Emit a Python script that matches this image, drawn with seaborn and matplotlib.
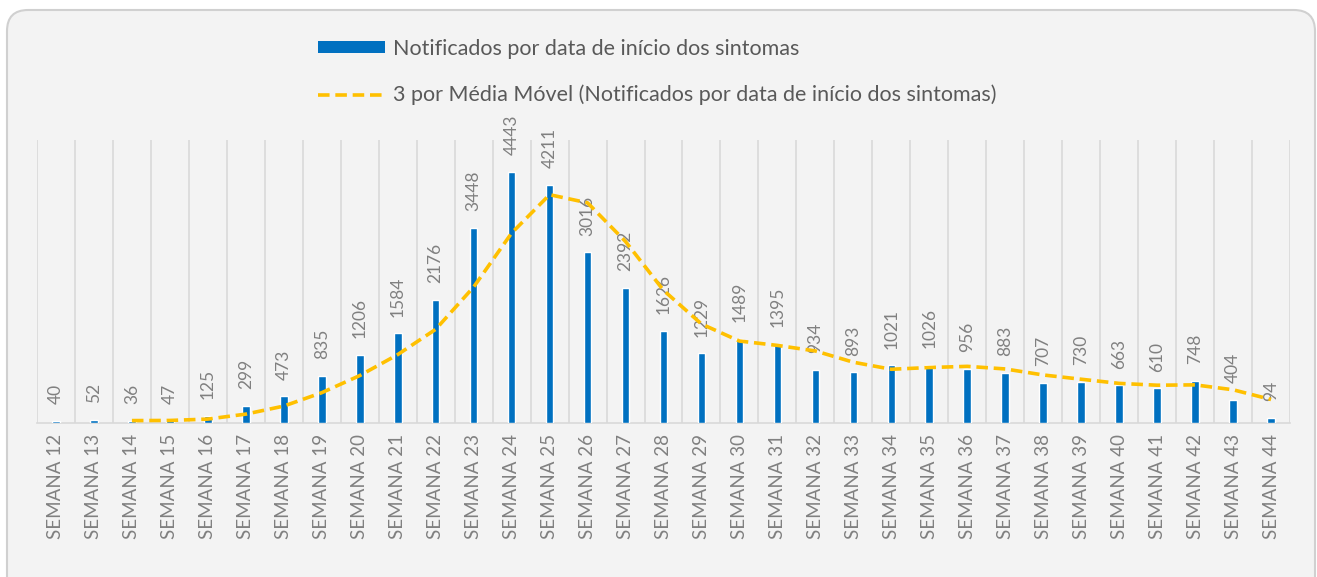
import pandas as pd
import numpy as np
import seaborn as sns
import matplotlib.pyplot as plt
from matplotlib.patches import FancyBboxPatch, Patch
from matplotlib.lines import Line2D

sns.set_style("white")
plt.rcParams['font.family'] = ['Lato', 'DejaVu Sans']

# dados
semanas = ["SEMANA %d" % s for s in range(12, 45)]
notificados = [40, 52, 36, 47, 125, 299, 473, 835, 1206, 1584, 2176, 3448, 4443,
               4211, 3016, 2392, 1626, 1229, 1489, 1395, 934, 893, 1021, 1026,
               956, 883, 707, 730, 663, 610, 748, 404, 94]
# média móvel de 3 períodos (começa na semana 14)
media_movel = [np.nan, np.nan, 42.7, 45.0, 69.3, 157.0, 299.0, 535.7, 838.0,
               1208.3, 1655.3, 2402.7, 3355.7, 4034.0, 3890.0, 3206.3, 2344.7,
               1749.0, 1448.0, 1371.0, 1272.7, 1074.0, 949.3, 980.0, 1001.0,
               955.0, 848.7, 773.3, 700.0, 667.7, 673.7, 587.3, 415.3]

lbl_bar = "Notificados por data de início dos sintomas"
lbl_mm = "3 por Média Móvel (Notificados por data de início dos sintomas)"

azul = "#0070C0"
amarelo = "#FFC000"
cinza = "#808080"

df = pd.DataFrame({"semana": semanas, "n": notificados,
                   "pos": np.arange(len(semanas)), "mm": media_movel})

fig = plt.figure(figsize=(13.17, 5.77), dpi=100)
fig.patch.set_facecolor("white")

# caixa arredondada de fundo
caixa = FancyBboxPatch((7 / 1317, -0.1), 1308 / 1317, 1.1 - 10 / 577,
                       boxstyle="round,pad=0,rounding_size=0.016",
                       transform=fig.transFigure, facecolor="#F3F3F3",
                       edgecolor="#D0D0D0", linewidth=1.5, zorder=-5,
                       mutation_aspect=1317 / 577)
fig.patches.append(caixa)

ax = fig.add_axes([37 / 1317, 1 - 423 / 577, 1253 / 1317, 283 / 577])
ax.set_facecolor("none")
ax.set_zorder(2)

sns.barplot(data=df, x="semana", y="n", color=azul, width=0.2,
            saturation=1, ax=ax, zorder=3)
sns.lineplot(data=df, x="pos", y="mm", color=amarelo, linewidth=2.6,
             dashes=False, ax=ax, zorder=4)
ax.lines[-1].set_dashes((3.2, 1.6))

ax.bar_label(ax.containers[0], labels=[str(v) for v in notificados],
             rotation=90, padding=12, color=cinza, fontsize=12.5)

ax.set_xlim(-0.5, len(semanas) - 0.5)
ax.set_ylim(0, 5000)
ax.set_yticks([])
ax.set_xlabel("")
ax.set_ylabel("")

# linhas verticais entre categorias
ax.set_xticks(np.arange(-0.5, len(semanas)), minor=True)
ax.grid(True, which="minor", axis="x", color="#D9D9D9", linewidth=1.2)
ax.grid(False, which="major")
ax.tick_params(axis="x", which="both", length=0)
ax.tick_params(axis="x", which="major", pad=8, labelrotation=90,
               labelsize=13.5, labelcolor=cinza)

for s in ["top", "left", "right"]:
    ax.spines[s].set_visible(False)
ax.spines["bottom"].set_color("#D9D9D9")
ax.spines["bottom"].set_linewidth(1.2)

handles = [Patch(facecolor=azul, edgecolor="none"),
           Line2D([], [], color=amarelo, linewidth=2.6, dashes=(3.2, 1.6))]
fig.legend(handles, [lbl_bar, lbl_mm], loc="upper left",
           bbox_to_anchor=(318 / 1317, 1 - 39 / 577), frameon=False,
           fontsize=15.5, labelcolor="#595959", handlelength=3.1,
           handleheight=0.5, handletextpad=0.4, labelspacing=1.2,
           borderpad=0, borderaxespad=0)

fig.savefig("out.png", dpi=100)
